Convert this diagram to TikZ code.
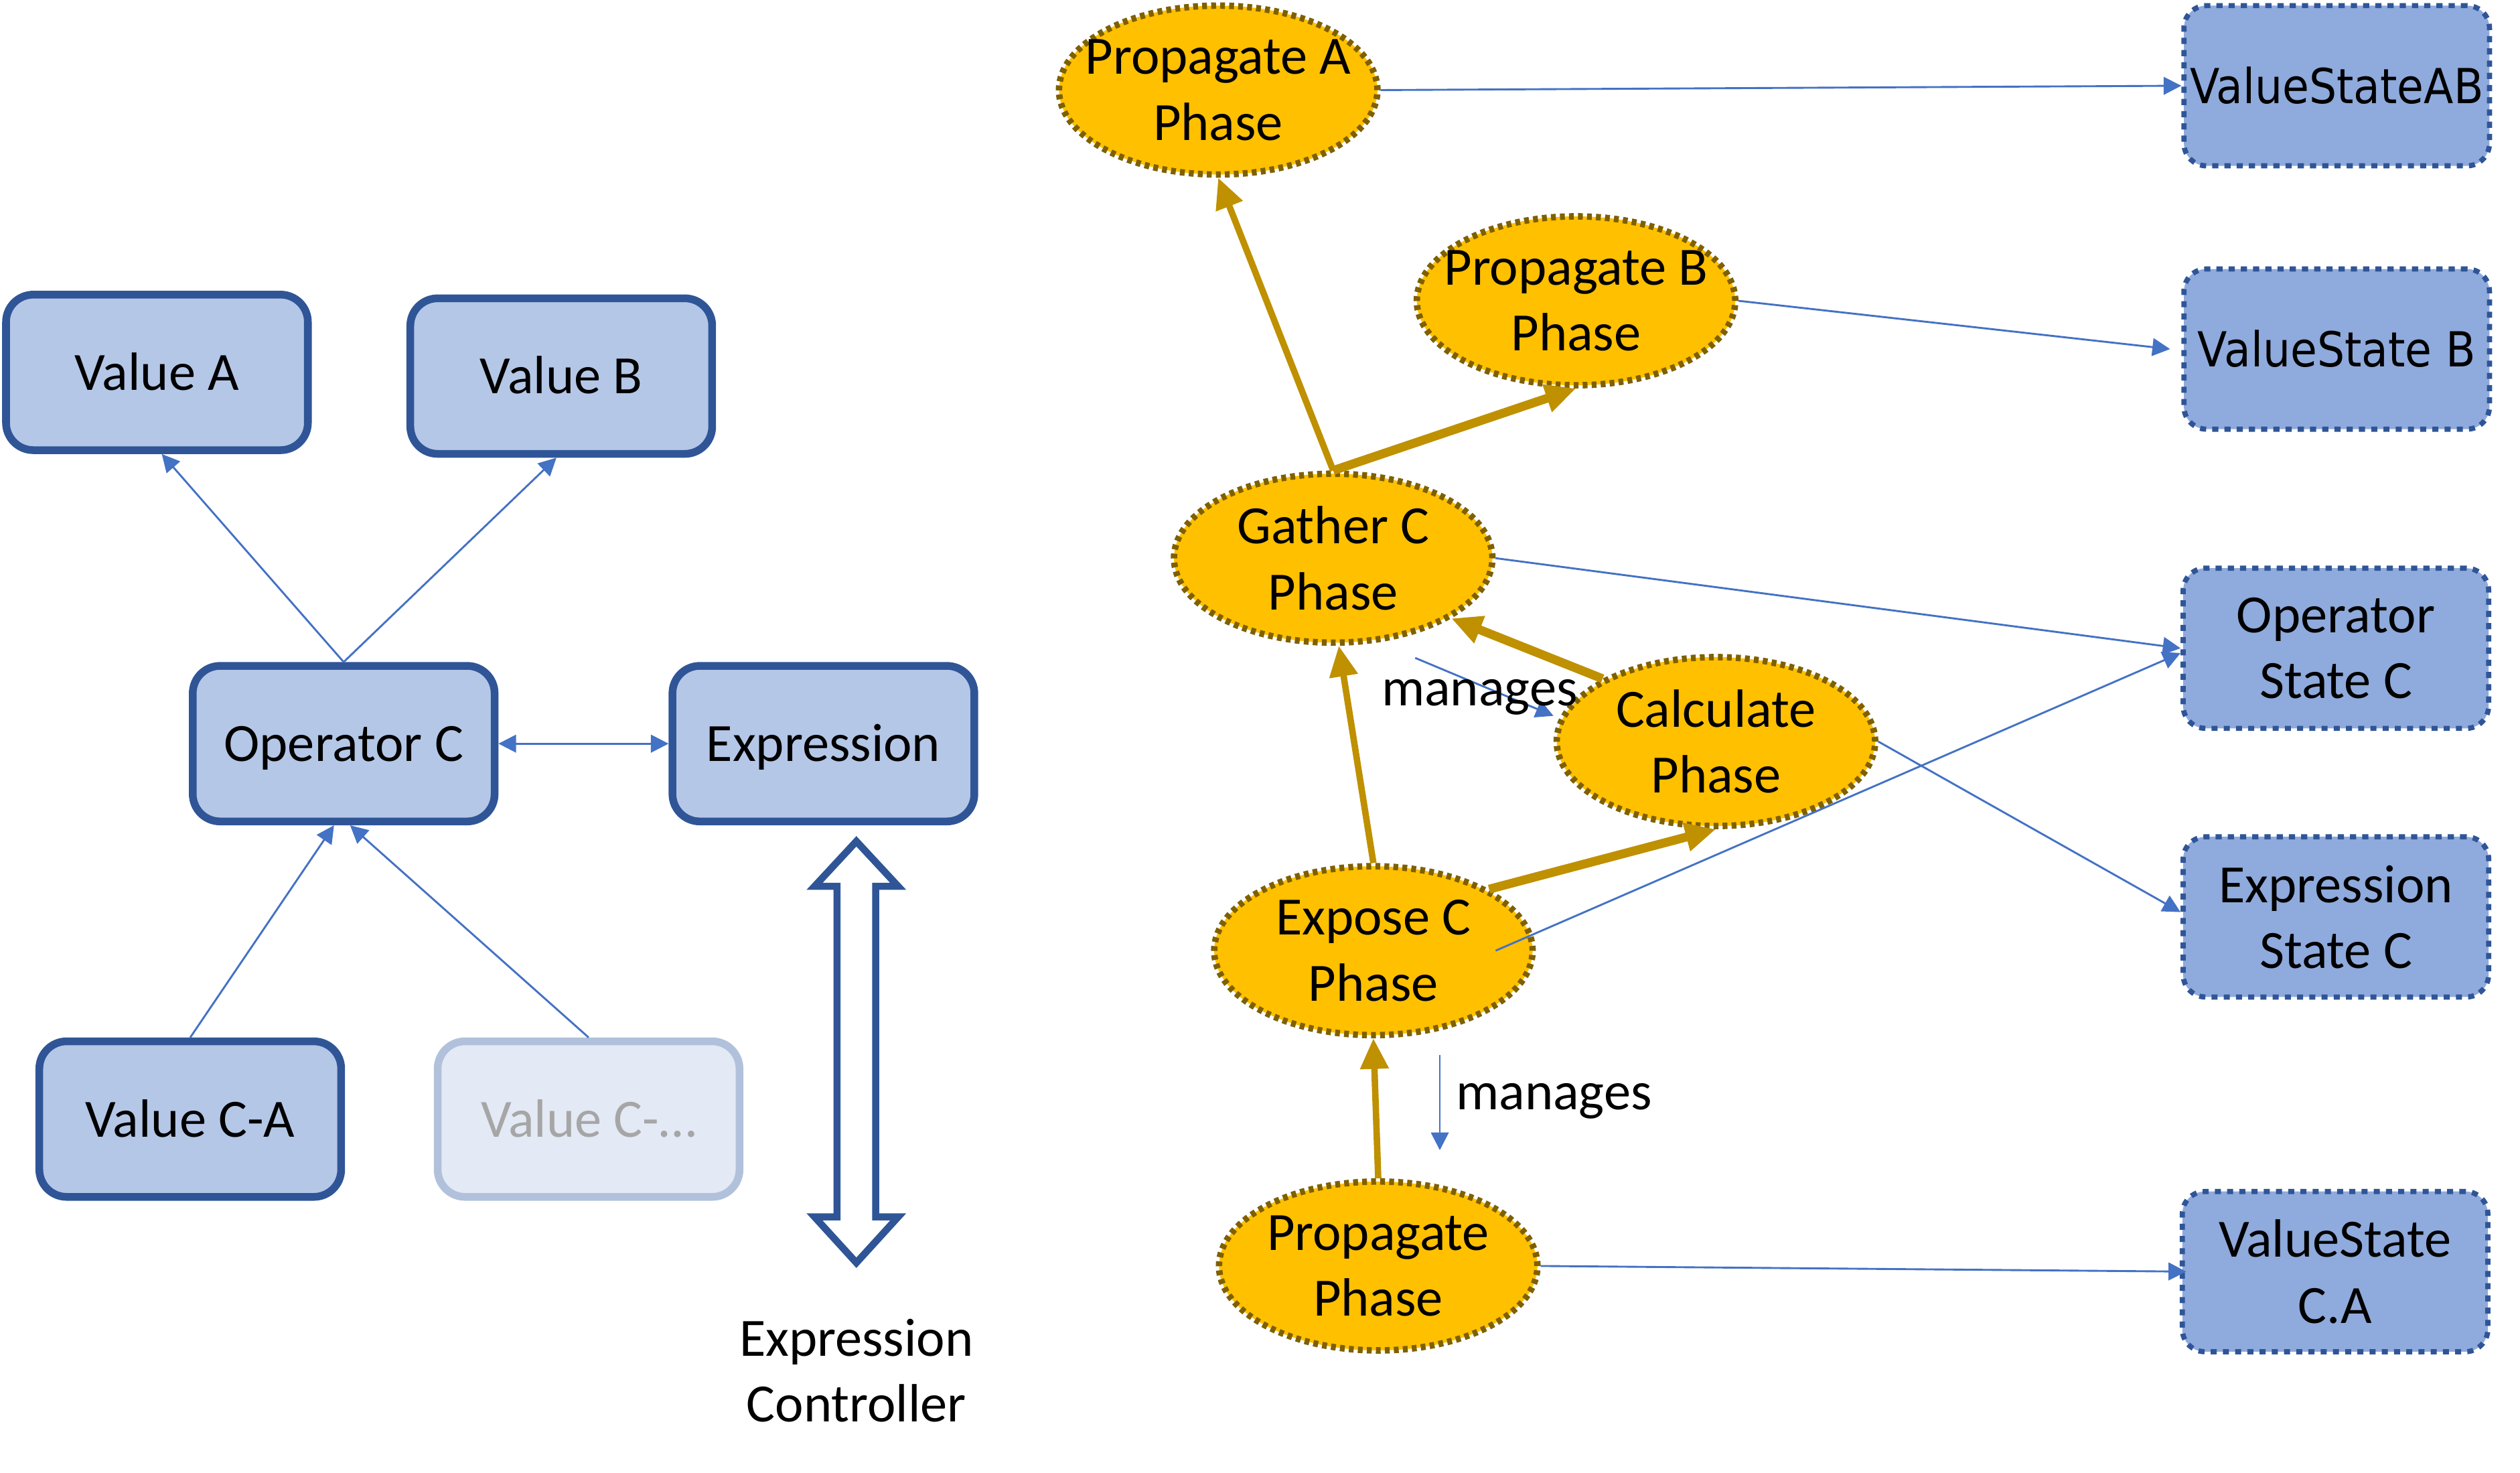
\documentclass[tikz,border=0pt]{standalone}
\usepackage{fontspec}
\setmainfont{Carlito}
\newfontfamily\dvs[FakeStretch=0.9]{DejaVu Sans}
\usetikzlibrary{shapes.geometric,arrows.meta}
\definecolor{boxfill}{HTML}{B4C7E7}
\definecolor{boxdraw}{HTML}{2F5597}
\definecolor{ghostfill}{HTML}{E3E9F5}
\definecolor{ghostdraw}{HTML}{B2C1DB}
\definecolor{ghosttext}{HTML}{A6A6A6}
\definecolor{statefill}{HTML}{8FAADC}
\definecolor{phasefill}{HTML}{FFC000}
\definecolor{phasedraw}{HTML}{7F6000}
\definecolor{goldarrow}{HTML}{BF9000}
\definecolor{arrowblue}{HTML}{4472C4}
\begin{document}
\begin{tikzpicture}[x=0.5pt,y=-0.5pt,
  fnt/.style={font=\fontsize{16.75pt}{20.45pt}\selectfont},
  oneline/.style={text height=13pt,text depth=2pt},
  vbox/.style={draw=boxdraw,fill=boxfill,line width=2.4pt,rounded corners=8.5pt,
    minimum width=93.85pt,minimum height=48.35pt,inner sep=0pt,fnt,oneline},
  ghost/.style={vbox,draw=ghostdraw,fill=ghostfill,text=ghosttext},
  state/.style={draw=boxdraw,fill=statefill,line width=1.6pt,dash pattern=on 1.9pt off 1.9pt,
    rounded corners=7pt,minimum width=95pt,minimum height=49.8pt,inner sep=0pt,
    align=center,fnt},
  dvstate/.style={state,font=\dvs\fontsize{15pt}{18pt}\selectfont,oneline},
  phase/.style={ellipse,draw=phasedraw,fill=phasefill,line width=2pt,
    dash pattern=on 1.5pt off 1.3pt,minimum width=99pt,minimum height=52.5pt,
    inner sep=-14pt,align=center,fnt},
  conn/.style={draw=arrowblue,line width=0.6pt,-{Triangle[length=5.5pt,width=5.5pt]}},
  conntwo/.style={conn,{Triangle[length=5.5pt,width=5.5pt]}-{Triangle[length=5.5pt,width=5.5pt]}},
  goldthin/.style={draw=goldarrow,line width=2pt,-{Triangle[length=9.5pt,width=8.5pt]}},
  goldthick/.style={goldthin,line width=2.75pt},
  lbl/.style={fnt,inner sep=0pt}
]
\useasboundingbox (0,0) rectangle (1567,915.3);

% left part
\node[vbox] (va) at (97.6,231.5) {Value A};
\node[vbox] (vb) at (349,233.8) {Value B};
\node[vbox] (opc) at (213.7,462.3) {Operator C};
\node[vbox] (expr) at (512,462.3) {Expression};
\node[vbox] (vca) at (118.3,695.7) {Value C-A};
\node[ghost] (vcx) at (366,695.7) {Value C-…};

\draw[conn] (opc.north) -- ([xshift=1.5pt]va.south);
\draw[conn] (opc.north) -- ([xshift=-1.5pt]vb.south);
\draw[conn] (vca.north) -- ([xshift=-3pt]opc.south);
\draw[conn] (vcx.north) -- ([xshift=2pt]opc.south);
\draw[conntwo] (opc.east) -- (expr.west);

% hollow double arrow
\draw[draw=boxdraw,fill=white,line width=2.2pt,line join=miter]
  (532.5,523) -- (558.5,551) -- (544.5,551) -- (544.5,756.5) -- (558.5,756.5)
  -- (532.5,785) -- (506.5,756.5) -- (520.5,756.5) -- (520.5,551) -- (506.5,551) -- cycle;
\node[lbl,align=center,anchor=base] (ectl) at (532.5,884) {Expression\\Controller};

% phases
\node[phase] (pa) at (757.5,56) {Propagate A\\Phase};
\node[phase] (pb) at (980,187) {Propagate B\\Phase};
\node[phase] (gc) at (829,347) {Gather C\\Phase};
\node[phase] (cp) at (1067,461) {Calculate\\Phase};
\node[phase] (ec) at (854,591) {Expose C\\Phase};
\node[phase] (pp) at (857,787) {Propagate\\Phase};

% states
\node[dvstate] (vsab) at (1453,53.3) {ValueStateAB};
\node[dvstate] (vsb) at (1453,217) {ValueState B};
\node[state] (osc) at (1452.5,403) {Operator\\State C};
\node[state] (esc) at (1452.5,570) {Expression\\State C};
\node[state] (vsca) at (1452,790.5) {ValueState\\C.A};

% gold arrows
\draw[goldthin] (gc.north) -- (pa.south);
\draw[goldthick] (gc.north) -- (pb.south);
\draw[goldthick] (cp.151) -- (gc.-27);
\draw[goldthin] (ec.north) -- ([xshift=1.75pt]gc.south);
\draw[goldthick] (ec.28) -- (cp.south);
\draw[goldthin] (pp.north) -- (ec.south);

% blue connectors
\draw[conn] (pa.east) -- (vsab.west);
\draw[conn] (pb.east) -- ([xshift=-3.5pt]vsb.west);
\draw[conn] (gc.east) -- (osc.west);
\draw[conn] ([xshift=-12.5pt]ec.east) -- ([yshift=-1.5pt]osc.west);
\draw[conn] (cp.east) -- ([yshift=1.5pt]esc.west);
\draw[conn] (pp.east) -- ([xshift=2pt]vsca.west);

% manages
\coordinate (m1a) at (880,409);
\coordinate (m1b) at (966,445);
\draw[conn] (m1a) -- (m1b);
\node[lbl,anchor=base] (m1) at (920,438.8) {manages};
\coordinate (m2a) at (895.3,656);
\coordinate (m2b) at (895.3,715);
\draw[conn] (m2a) -- (m2b);
\node[lbl,anchor=base west] (m2) at (905,690) {manages};
\end{tikzpicture}
\end{document}
